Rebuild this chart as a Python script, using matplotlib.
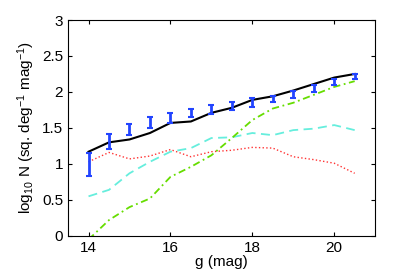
import matplotlib
matplotlib.use('Agg')
import matplotlib.pyplot as plt

plt.rcParams['font.family'] = ['Liberation Sans', 'DejaVu Sans']
plt.rcParams['mathtext.fontset'] = 'custom'
plt.rcParams['mathtext.rm'] = 'Liberation Sans'
plt.rcParams['mathtext.default'] = 'regular'

mag = [14, 14.5, 15, 15.5, 16, 16.5, 17, 17.5, 18, 18.5, 19, 19.5, 20, 20.5]
obs = [0.99, 1.31, 1.48, 1.58, 1.64, 1.71, 1.76, 1.80, 1.85, 1.90, 1.97, 2.05, 2.14, 2.21]
obs_err = [0.16, 0.10, 0.08, 0.075, 0.07, 0.06, 0.06, 0.055, 0.06, 0.045, 0.05, 0.05, 0.04, 0.035]
total = [1.17, 1.30, 1.34, 1.43, 1.57, 1.59, 1.71, 1.78, 1.89, 1.94, 2.02, 2.11, 2.20, 2.25]
halo = [-0.05, 0.22, 0.40, 0.52, 0.82, 0.96, 1.12, 1.36, 1.61, 1.77, 1.85, 1.96, 2.07, 2.15]
thick = [0.55, 0.64, 0.87, 1.03, 1.17, 1.22, 1.36, 1.37, 1.43, 1.40, 1.47, 1.49, 1.54, 1.47]
thin = [1.03, 1.16, 1.07, 1.11, 1.20, 1.10, 1.17, 1.19, 1.23, 1.22, 1.10, 1.06, 1.01, 0.87]

fig = plt.figure(figsize=(4.15, 2.74), dpi=100)
ax = fig.add_axes([0.164, 0.139, 0.740, 0.788])

ax.plot(mag, thin, color='#ff3333', ls=':', lw=1.0)
ax.plot(mag, thick, color='#66eedd', ls='--', lw=1.3, dashes=(5, 3))
ax.plot(mag, halo, color='#66dd00', lw=1.3, dashes=(4, 2, 1, 2))
ax.plot(mag, total, color='black', lw=1.5)
ax.errorbar(mag, obs, yerr=obs_err, fmt='none', ecolor='#2244ff',
            elinewidth=2.0, capsize=2.2, capthick=1.5)

ax.set_xlim(13.5, 21)
ax.set_ylim(0, 3)
ax.set_xticks([14, 16, 18, 20])
ax.set_yticks([0, 0.5, 1, 1.5, 2, 2.5, 3])
ax.set_yticklabels(['0', '0.5', '1', '1.5', '2', '2.5', '3'])
ax.tick_params(direction='in', top=True, right=True, labelsize=11, length=3)
ax.set_xlabel('g (mag)', fontsize=11, labelpad=0)
ax.set_ylabel(r'log$_{10}$ N (sq. deg$^{-1}$ mag$^{-1}$)', fontsize=11, labelpad=4)
ax.spines[:].set_linewidth(0.8)

fig.savefig('out.png', dpi=100)
